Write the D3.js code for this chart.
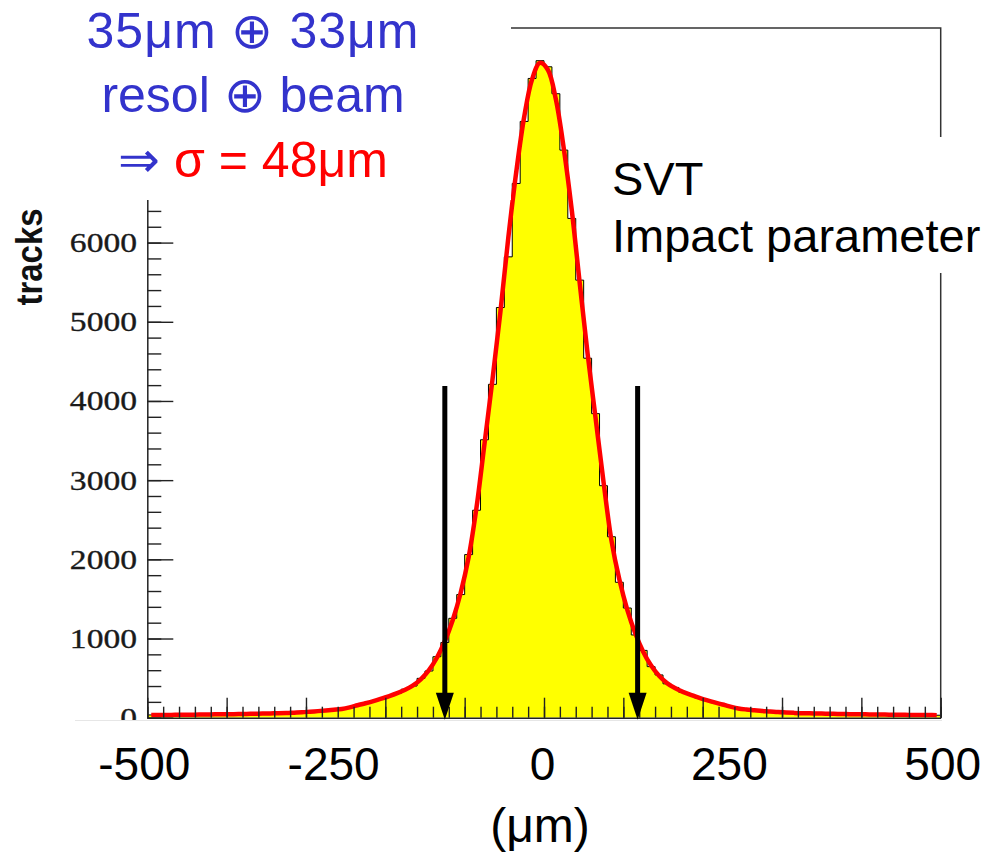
<!DOCTYPE html>
<html>
<head>
<meta charset="utf-8">
<script src="https://cdn.jsdelivr.net/npm/d3@7"></script>
<style>
  body { margin: 0; background: #fff; }
  svg { display: block; }
</style>
</head>
<body>
<svg width="990" height="858"></svg>
<script>
// 100 bins of 10 um from -500 to 500
const binLow = d3.range(-500, 500, 10);
const binWidth = 10;

// histogram contents (tracks per bin)
const counts = [
  35, 31, 36, 34, 38, 36, 40, 39, 43, 41,
  45, 44, 49, 48, 53, 52, 58, 57, 66, 67,
  78, 81, 93, 98, 113, 127, 160, 178, 213, 236,
  279, 305, 360, 400, 497, 590, 770, 950, 1255, 1555,
  2060, 2620, 3510, 4210, 5180, 5820, 6747, 7530, 8073, 8297,
  8220, 7880, 7168, 6305, 5526, 4540, 3840, 2930, 2285, 1710,
  1385, 1045, 850, 645, 540, 428, 382, 320, 294, 248,
  226, 189, 171, 137, 120, 101, 97, 84, 81, 69,
  68, 59, 58, 54, 55, 50, 50, 46, 46, 42,
  43, 40, 41, 37, 38, 35, 36, 33, 34, 31
];

// fitted curve sampled at the bin centres
const fitCounts = [
  33, 34, 35, 36, 37, 38, 39, 40, 42, 43,
  44, 46, 48, 50, 52, 54, 56, 59, 64, 69,
  76, 83, 91, 100, 110, 130, 157, 182, 209, 240,
  273, 310, 353, 408, 488, 601, 757, 966, 1234, 1578,
  2026, 2660, 3460, 4264, 5120, 6060, 6890, 7586, 8064, 8270,
  8180, 7806, 7184, 6410, 5490, 4592, 3784, 2980, 2240, 1744,
  1362, 1066, 834, 658, 529, 437, 374, 327, 288, 253,
  221, 193, 167, 140, 117, 104, 95, 86, 79, 71,
  66, 61, 57, 55, 53, 51, 49, 47, 45, 43,
  42, 41, 40, 38, 37, 36, 35, 34, 33, 32
];

const yLabelValues = [0, 1000, 2000, 3000, 4000, 5000, 6000];
const xLabelValues = [-500, -250, 0, 250, 500];
const arrowAt = [-125, 118];
const arrowTop = 4190;

const svg = d3.select("svg");

const x = d3.scaleLinear().domain([-500, 500]).range([147.3, 940.7]);
const y = d3.scaleLinear().domain([0, 8710]).range([717.7, 28]);

svg.append("rect").attr("width", 990).attr("height", 858).attr("fill", "#fff");

svg.append("clipPath").attr("id", "frame")
  .append("rect")
  .attr("x", x(-500)).attr("y", y(8710))
  .attr("width", x(500) - x(-500)).attr("height", y(0) - y(8710));

// histogram as a filled step outline
const steps = [[-500, 0]];
binLow.forEach((lo, i) => {
  steps.push([lo, counts[i]]);
  steps.push([lo + binWidth, counts[i]]);
});
steps.push([500, 0]);

const stepLine = d3.line().x(d => x(d[0])).y(d => y(d[1]));

const plot = svg.append("g").attr("clip-path", "url(#frame)");

plot.append("path")
  .attr("d", stepLine(steps))
  .attr("fill", "#ffff00")
  .attr("stroke", "#000")
  .attr("stroke-width", 1);

// fit
const fitLine = d3.line()
  .x((d, i) => x(binLow[i] + binWidth / 2))
  .y(d => y(d))
  .curve(d3.curveCatmullRom);

plot.append("path")
  .attr("d", fitLine(fitCounts))
  .attr("fill", "none")
  .attr("stroke", "#ff0000")
  .attr("stroke-width", 4.5);

// frame top / right
svg.append("path")
  .attr("d", `M${x(-500)},${y(8710)}H${x(500)}V${y(0)}`)
  .attr("fill", "none")
  .attr("stroke", "#333")
  .attr("stroke-width", 1.5);

// y axis, ticks pointing into the frame
svg.append("g")
  .attr("transform", `translate(${x(-500)},0)`)
  .call(d3.axisRight(y).tickValues(d3.range(0, 8701, 200)).tickSize(14).tickSizeOuter(0).tickFormat(""))
  .call(g => g.select(".domain").attr("stroke", "#222").attr("stroke-width", 1.5))
  .call(g => g.selectAll(".tick line").attr("stroke", "#222").attr("stroke-width", 1.4));

svg.append("g")
  .attr("transform", `translate(${x(-500)},0)`)
  .call(d3.axisRight(y).tickValues(d3.range(0, 8701, 1000)).tickSize(26).tickSizeOuter(0).tickFormat(""))
  .call(g => g.select(".domain").remove())
  .call(g => g.selectAll(".tick line").attr("stroke", "#222").attr("stroke-width", 1.4));

// x axis, ticks pointing up
svg.append("g")
  .attr("transform", `translate(0,${y(0)})`)
  .call(d3.axisTop(x).tickValues(d3.range(-500, 501, 20)).tickSize(11).tickSizeOuter(0).tickFormat(""))
  .call(g => g.select(".domain").attr("stroke", "#222").attr("stroke-width", 1.5))
  .call(g => g.selectAll(".tick line").attr("stroke", "#222").attr("stroke-width", 1.4));

svg.append("g")
  .attr("transform", `translate(0,${y(0)})`)
  .call(d3.axisTop(x).tickValues(d3.range(-500, 501, 100)).tickSize(20).tickSizeOuter(0).tickFormat(""))
  .call(g => g.select(".domain").remove())
  .call(g => g.selectAll(".tick line").attr("stroke", "#222").attr("stroke-width", 1.4));

// y tick labels (wide serif digits)
svg.append("g").selectAll("g")
  .data(yLabelValues)
  .join("g")
  .attr("transform", d => `translate(137,${y(d)}) scale(1.2,1)`)
  .append("text")
  .attr("text-anchor", "end")
  .attr("dy", "0.34em")
  .attr("font-family", "'Liberation Serif', 'Times New Roman', serif")
  .attr("font-size", 28)
  .attr("fill", "#1a1a1a")
  .attr("stroke", "#1a1a1a")
  .attr("stroke-width", 0.35)
  .text(d => d);

svg.append("g")
  .attr("transform", "translate(42,257) scale(1.12,1)")
  .append("text")
  .attr("transform", "rotate(-90)")
  .attr("text-anchor", "middle")
  .attr("font-family", "'Liberation Sans', Arial, sans-serif")
  .attr("font-weight", "bold")
  .attr("font-size", 33)
  .attr("fill", "#111")
  .text("tracks");

// overlay boxes from the slide
const white = [
  [0, 0, 511, 200],
  [590, 137, 400, 136],
  [75, 720, 867, 138]
];
svg.append("g").selectAll("rect")
  .data(white)
  .join("rect")
  .attr("x", d => d[0]).attr("y", d => d[1])
  .attr("width", d => d[2]).attr("height", d => d[3])
  .attr("fill", "#fff");

svg.append("line")
  .attr("x1", 75).attr("x2", 942).attr("y1", 720.5).attr("y2", 720.5)
  .attr("stroke", "#e6e6e6").attr("stroke-width", 1);

// x labels placed by hand on the slide, nudged a little off the ticks
const nudge = { "-500": -3, "-250": -12, "0": -1.5, "250": -13, "500": 2 };
svg.append("g").selectAll("text")
  .data(xLabelValues)
  .join("text")
  .attr("x", d => x(d) + nudge[d])
  .attr("y", 780)
  .attr("text-anchor", "middle")
  .attr("font-family", "'Liberation Sans', Arial, sans-serif")
  .attr("font-size", 46)
  .attr("fill", "#000")
  .text(d => d);

svg.append("text")
  .attr("x", 540).attr("y", 842)
  .attr("text-anchor", "middle")
  .attr("font-family", "'Liberation Sans', Arial, sans-serif")
  .attr("font-size", 48)
  .text("(\u03bcm)");

// resolution note
const blue = "#3333cc";
const note = svg.append("g")
  .attr("font-family", "'Liberation Sans', Arial, sans-serif")
  .attr("font-size", 50)
  .attr("text-anchor", "middle");
note.append("text").attr("x", 253).attr("y", 48).attr("fill", blue)
  .attr("letter-spacing", 1).text("35\u03bcm \u2295 33\u03bcm");
note.append("text").attr("x", 253).attr("y", 112).attr("fill", blue).text("resol \u2295 beam");
const l3 = note.append("text").attr("x", 253).attr("y", 177);
l3.append("tspan").attr("fill", blue).text("\u21d2 ");
l3.append("tspan").attr("fill", "#ff0000").text("\u03c3 = 48\u03bcm");

const title = svg.append("g")
  .attr("font-family", "'Liberation Sans', Arial, sans-serif")
  .attr("font-size", 47)
  .attr("fill", "#000");
title.append("text").attr("x", 612).attr("y", 195).text("SVT");
title.append("text").attr("x", 612).attr("y", 252).text("Impact parameter");

// cut arrows
const arrows = svg.append("g").selectAll("g").data(arrowAt).join("g");
arrows.append("line")
  .attr("x1", d => x(d)).attr("x2", d => x(d))
  .attr("y1", y(arrowTop)).attr("y2", y(0) - 24)
  .attr("stroke", "#000").attr("stroke-width", 5);
arrows.append("path")
  .attr("d", d => `M${x(d) - 9},${y(0) - 25}L${x(d) + 9},${y(0) - 25}L${x(d)},${y(0) + 2}Z`)
  .attr("fill", "#000");
</script>
</body>
</html>
